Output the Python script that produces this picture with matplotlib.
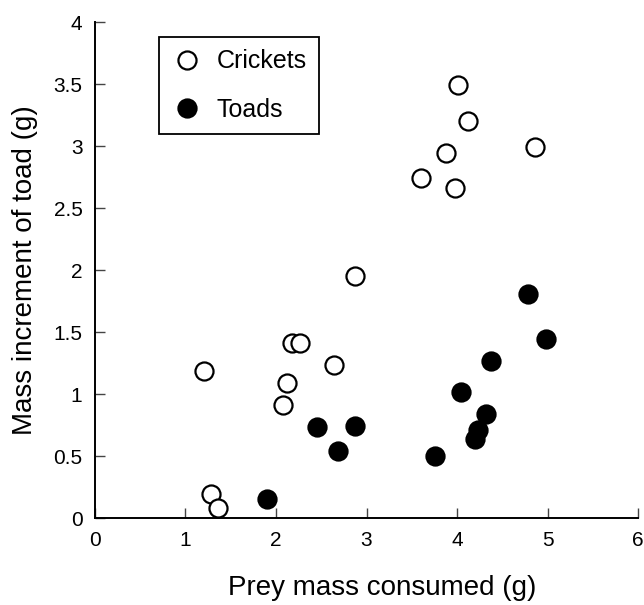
import matplotlib.pyplot as plt

plt.rcParams['font.family'] = ['Liberation Sans', 'DejaVu Sans']

# Crickets (open circles)
cricket_x = [1.20, 1.28, 1.36, 2.08, 2.12, 2.18, 2.27, 2.64, 2.87, 3.60, 3.88, 3.98, 4.01, 4.12, 4.86]
cricket_y = [1.185, 0.19, 0.08, 0.91, 1.09, 1.41, 1.41, 1.23, 1.95, 2.74, 2.94, 2.66, 3.49, 3.20, 2.99]

# Toads (filled circles)
toad_x = [1.90, 2.45, 2.69, 2.87, 3.76, 4.04, 4.20, 4.23, 4.32, 4.38, 4.78, 4.98]
toad_y = [0.15, 0.73, 0.54, 0.74, 0.50, 1.02, 0.64, 0.71, 0.84, 1.27, 1.81, 1.44]

x_ticks = [0, 1, 2, 3, 4, 5, 6]
y_ticks = [0, 0.5, 1, 1.5, 2, 2.5, 3, 3.5, 4]
y_tick_labels = ['0', '0.5', '1', '1.5', '2', '2.5', '3', '3.5', '4']

fig = plt.figure(figsize=(6.44, 6.05), dpi=100)
ax = fig.add_axes([0.1475, 0.1438, 0.8432, 0.8198])

ax.plot(cricket_x, cricket_y, 'o', ms=13, mfc='white', mec='black', mew=1.6,
        label='Crickets', clip_on=False)
ax.plot(toad_x, toad_y, 'o', ms=13, mfc='black', mec='black', mew=1.6,
        label='Toads', clip_on=False)

ax.set_xlim(0, 6)
ax.set_ylim(0, 4)
ax.set_xticks(x_ticks)
ax.set_yticks(y_ticks)
ax.set_yticklabels(y_tick_labels)
ax.tick_params(direction='in', length=7, width=1.0, labelsize=15, pad=9, color='#444444')

for side in ['top', 'right']:
    ax.spines[side].set_visible(False)
for side in ['left', 'bottom']:
    ax.spines[side].set_linewidth(1.4)

ax.set_xlabel('Prey mass consumed (g)', fontsize=20)
ax.set_ylabel('Mass increment of toad (g)', fontsize=20)
ax.xaxis.set_label_coords(0.529, -0.115)
ax.yaxis.set_label_coords(-0.105, 0.5)

leg = ax.legend(loc='upper left', bbox_to_anchor=(0.118, 0.970), borderaxespad=0,
                fontsize=18, frameon=True, fancybox=False, edgecolor='black',
                framealpha=1, handlelength=1.2, handletextpad=0.6,
                borderpad=0.5, labelspacing=0.98)
leg.get_frame().set_linewidth(1.3)

fig.savefig('out.png', dpi=100)
